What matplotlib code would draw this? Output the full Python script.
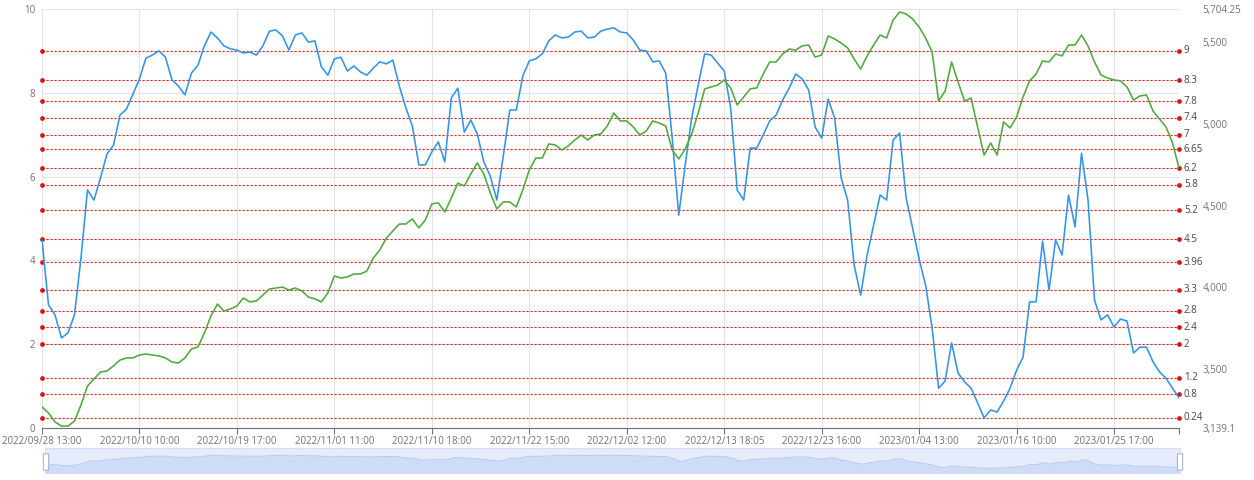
import numpy as np
from matplotlib import pyplot as plt
from matplotlib.patches import FancyBboxPatch

plt.rcParams['font.family'] = ['Open Sans', 'DejaVu Sans']

dates = ['2022/09/28 13:00', '2022/10/10 10:00', '2022/10/19 17:00', '2022/11/01 11:00',
         '2022/11/10 18:00', '2022/11/22 15:00', '2022/12/02 12:00', '2022/12/13 18:05',
         '2022/12/23 16:00', '2023/01/04 13:00', '2023/01/16 10:00', '2023/01/25 17:00']
LABEL_STEP = 15  # points between two date labels

# blue series, left axis
ratio = [4.49, 2.94, 2.70, 2.15, 2.27, 2.70, 4.06, 5.68, 5.44, 5.97,
         6.54, 6.75, 7.47, 7.61, 7.97, 8.33, 8.83, 8.90, 9.00, 8.85,
         8.31, 8.16, 7.95, 8.47, 8.66, 9.12, 9.45, 9.31, 9.12, 9.05,
         9.02, 8.95, 8.97, 8.90, 9.12, 9.47, 9.50, 9.36, 9.02, 9.38,
         9.43, 9.21, 9.24, 8.62, 8.42, 8.81, 8.85, 8.52, 8.64, 8.50,
         8.42, 8.59, 8.74, 8.69, 8.78, 8.16, 7.64, 7.21, 6.28, 6.28,
         6.59, 6.83, 6.35, 7.88, 8.11, 7.06, 7.35, 7.02, 6.35, 6.01,
         5.44, 6.49, 7.59, 7.59, 8.40, 8.76, 8.81, 8.93, 9.24, 9.38,
         9.31, 9.33, 9.45, 9.47, 9.31, 9.33, 9.47, 9.52, 9.55, 9.45,
         9.43, 9.26, 9.02, 9.00, 8.74, 8.76, 8.47, 6.92, 5.08, 6.28,
         7.40, 8.19, 8.93, 8.90, 8.71, 8.52, 7.64, 5.68, 5.44, 6.68,
         6.68, 6.99, 7.33, 7.47, 7.83, 8.11, 8.45, 8.33, 8.07, 7.18,
         6.92, 7.85, 7.40, 5.97, 5.44, 3.89, 3.17, 4.13, 4.84, 5.56,
         5.44, 6.87, 7.04, 5.49, 4.77, 4.03, 3.41, 2.39, 0.95, 1.12,
         2.03, 1.31, 1.10, 0.95, 0.60, 0.24, 0.43, 0.38, 0.64, 0.95,
         1.38, 1.69, 3.01, 3.01, 4.46, 3.29, 4.49, 4.13, 5.56, 4.80,
         6.56, 5.44, 3.05, 2.58, 2.70, 2.41, 2.60, 2.55, 1.79, 1.93,
         1.93, 1.58, 1.34, 1.19, 0.95, 0.72]

# green series, right axis
index_val = [3268, 3231, 3176, 3151, 3151, 3182, 3280, 3396, 3439, 3482,
             3488, 3519, 3555, 3568, 3568, 3586, 3592, 3586, 3580, 3568,
             3543, 3537, 3568, 3623, 3635, 3721, 3825, 3898, 3855, 3868,
             3886, 3935, 3911, 3917, 3953, 3990, 3996, 4002, 3984, 3996,
             3978, 3941, 3929, 3911, 3966, 4070, 4057, 4064, 4082, 4082,
             4100, 4180, 4229, 4302, 4345, 4388, 4388, 4419, 4364, 4413,
             4511, 4517, 4462, 4547, 4639, 4621, 4694, 4762, 4694, 4578,
             4480, 4523, 4523, 4492, 4596, 4719, 4792, 4792, 4878, 4872,
             4841, 4866, 4902, 4933, 4902, 4933, 4939, 4988, 5068, 5019,
             5019, 4982, 4933, 4957, 5019, 5006, 4988, 4841, 4786, 4847,
             4939, 5068, 5215, 5227, 5239, 5270, 5221, 5117, 5166, 5215,
             5221, 5306, 5380, 5380, 5429, 5459, 5453, 5478, 5484, 5410,
             5423, 5539, 5521, 5496, 5466, 5398, 5337, 5417, 5484, 5545,
             5527, 5637, 5686, 5674, 5643, 5594, 5527, 5441, 5141, 5202,
             5380, 5257, 5141, 5159, 4982, 4810, 4884, 4810, 5013, 4976,
             5043, 5166, 5264, 5306, 5386, 5380, 5429, 5417, 5484, 5484,
             5545, 5478, 5380, 5300, 5282, 5270, 5264, 5227, 5147, 5172,
             5178, 5080, 5031, 4982, 4884, 4731]

mark_levels = [9, 8.3, 7.8, 7.4, 7, 6.65, 6.2, 5.8, 5.2, 4.5, 3.96, 3.3, 2.8, 2.4, 2, 1.2, 0.8, 0.24]
mark_labels = ['9', '8.3', '7.8', '7.4', '7', '6.65', '6.2', '5.8', '5.2', '4.5', '3.96',
               '3.3', '2.8', '2.4', '2', '1.2', '0.8', '0.24']

right_min, right_max = 3139.1, 5704.25
right_ticks = [3139.1, 3500, 4000, 4500, 5000, 5500, 5704.25]
right_labels = ['3,139.1', '3,500', '4,000', '4,500', '5,000', '5,500', '5,704.25']

GREY = '#6e7079'
GRID = '#e3e3e3'

W, H = 1254, 480
fig = plt.figure(figsize=(W / 100, H / 100), dpi=100)
ax = fig.add_axes([42 / W, 52 / H, 1137 / W, 419 / H])

x = np.arange(len(ratio))
last = len(ratio) - 1
ax.set_xlim(0, last)
ax.set_ylim(0, 10)
ax.set_yticks(range(0, 11, 2))
ax.tick_params(axis='y', length=0, pad=5, labelsize=7, labelcolor=GREY)

ax.set_xticks(np.arange(len(dates)) * LABEL_STEP)
ax.set_xticklabels(dates)
ax.set_xticks([last], minor=True)
ax.tick_params(axis='x', which='both', length=4, width=0.8, color=GREY, pad=2,
               labelsize=7, labelcolor=GREY)
for s in ['top', 'left', 'right']:
    ax.spines[s].set_visible(False)
ax.spines['bottom'].set_color(GREY)
ax.spines['bottom'].set_linewidth(0.8)
ax.grid(True, color=GRID, lw=0.8)
ax.axvline(last, color=GRID, lw=0.8, zorder=0)
ax.set_axisbelow(True)

# red mark lines
for lvl, lab in zip(mark_levels, mark_labels):
    ax.axhline(lvl, color='#ee1c1c', lw=0.8, ls=(0, (2, 1.6)), zorder=2)
    ax.plot([0, last], [lvl, lvl], 'o', color='#dd1111', ms=2.4, clip_on=False, zorder=3)
    ax.text(1 + 5 / 1137, lvl, lab, transform=ax.get_yaxis_transform(),
            va='center', ha='left', fontsize=7, color='#444444')

ax.plot(x, ratio, color='#3094e8', lw=1.15, zorder=4)

ax2 = ax.twinx()
ax2.set_ylim(right_min, right_max)
ax2.set_yticks(right_ticks)
ax2.set_yticklabels(right_labels)
ax2.tick_params(axis='y', length=0, pad=17, labelsize=7, labelcolor=GREY)
for s in ax2.spines.values():
    s.set_visible(False)
ax2.plot(x, index_val, color='#4fa83d', lw=1.15, zorder=4)

# data zoom slider
sax = fig.add_axes([45 / W, 7 / H, 1135 / W, 25 / H])
sax.set_facecolor('#e6ecfa')
sax.fill_between(x, ratio, -3.1, color='#cfdcf5', lw=0)
sax.plot(x, ratio, color='#b9caf0', lw=0.7)
sax.set_xlim(0, last)
sax.set_ylim(-3.1, 14.8)
sax.set_xticks([])
sax.set_yticks([])
for s in sax.spines.values():
    s.set_color('#d5def2')
    s.set_linewidth(0.8)

for hx in [44, 1178]:
    fig.patches.append(FancyBboxPatch((hx / W, 10 / H), 4 / W, 16 / H,
                                      boxstyle='round,pad=0.0005', transform=fig.transFigure,
                                      facecolor='white', edgecolor='#aab6cf', lw=0.8))

fig.savefig('out.png', dpi=100)
